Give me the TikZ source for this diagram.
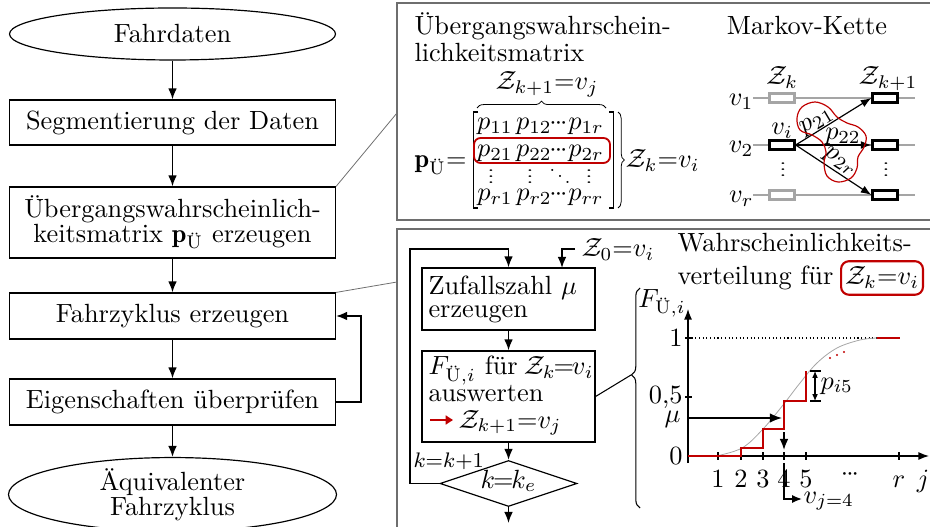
\documentclass[tikz,border=0pt]{standalone}
\usepackage{fontspec}
\usepackage{amsmath}
\usetikzlibrary{arrows.meta,shapes.geometric,decorations.pathreplacing}
\definecolor{dred}{RGB}{192,0,0}
\definecolor{pgray}{RGB}{110,110,110}
\definecolor{lgray}{RGB}{165,165,165}
\newcommand\pxu{0.38pt}
\newcommand\hdts{{\cdot}\mkern-1.3mu{\cdot}\mkern-1.3mu{\cdot}}
\newcommand\vdts{\scalebox{1}[0.6]{$\vdots$}}
\newcommand\eqq{\mkern-1.5mu{=}\mkern-1.5mu}
\begin{document}
\begin{tikzpicture}[x=0.38pt,y=-0.38pt,
  txt/.style={inner sep=0pt},
  box/.style={draw, line width=0.45pt, minimum width=326*\pxu, align=center, inner sep=0pt, font=\fontsize{10}{9.5}\selectfont},
  ell/.style={draw, ellipse, line width=0.45pt, inner sep=0pt, align=center, font=\fontsize{10}{9.5}\selectfont},
  sbox/.style={draw, line width=0.45pt, minimum width=173*\pxu, inner sep=0pt},
  arr/.style={line width=0.6pt, -{Latex[length=4.2pt,width=3.3pt]}},
  arrthin/.style={line width=0.45pt, -{Latex[length=4pt,width=3pt]}},
  mbox/.style={draw, fill=white, line width=0.9pt, minimum width=25*\pxu, minimum height=9*\pxu, inner sep=0pt},
  gbox/.style={mbox, draw=lgray, line width=0.8pt},
  panel/.style={draw=pgray, line width=0.5pt},
  conn/.style={draw=pgray, line width=0.3pt},
  redl/.style={dred, line width=0.85pt}
]
\useasboundingbox (0,0) rectangle (930,527);

% ---------- left flowchart ----------
\node[ell, minimum width=326*\pxu, minimum height=52*\pxu] (fd) at (172.5,34) {Fahrdaten};
\node[box, minimum height=45*\pxu] (seg) at (172.5,122.5) {Segmentierung der Daten};
\node[box, minimum height=71*\pxu] (ueb) at (172.5,222.5) {Übergangswahrscheinlich-\\keitsmatrix $\mathbf{p}_{\text{Ü}}$ erzeugen};
\node[box, minimum height=46*\pxu] (fz) at (172.5,316) {Fahrzyklus erzeugen};
\node[box, minimum height=46*\pxu] (eig) at (172.5,402) {Eigenschaften überprüfen};
\node[ell, minimum width=328*\pxu, minimum height=61*\pxu] (aeq) at (172.5,494.5) {Äquivalenter\\Fahrzyklus};

\draw[arr] (fd.south) -- (seg.north);
\draw[arr] (seg.south) -- (ueb.north);
\draw[arr] (ueb.south) -- (fz.north);
\draw[arr] (fz.south) -- (eig.north);
\draw[arr] (eig.south) -- (aeq.north);
\draw[arr] (eig.east) -- ++(25,0) |- (fz.east);

% ---------- panels ----------
\draw[panel] (945,3) -- (397,3) -- (397,220) -- (945,220);
\draw[panel] (945,229) -- (397,229) -- (397,545);
\coordinate (tpl) at (397,113);
\coordinate (bpl) at (397,282);
\draw[conn] (ueb.north east) -- (tpl);
\draw[conn] (fz.north east) -- (bpl);

% ---------- matrix ----------
\node[txt, anchor=base west] (t1) at (414,35) {Übergangswahrschein-};
\node[txt, anchor=base west] (t2) at (414,62) {lichkeitsmatrix};
\node[txt, anchor=base east] (pu) at (467,168) {$\mathbf{p}_{\text{Ü}}{=}$};
\foreach \r/\y in {1/130, 2/157, r/201} {
  \node[txt, anchor=base] (p\r a) at (495,\y) {$p_{\r1}$};
  \node[txt, anchor=base] (p\r b) at (534,\y) {$p_{\r2}$};
  \node[txt, anchor=base] (p\r c) at (558.5,\y) {$\hdts$};
  \node[txt, anchor=base] (p\r d) at (586,\y) {$p_{\r r}$};
}
\node[txt, anchor=base] (vd1) at (491,184) {\vdts};
\node[txt, anchor=base] (vd2) at (530,184) {\vdts};
\node[txt, anchor=base] (dd3) at (560,185) {\scalebox{0.75}{$\ddots$}};
\node[txt, anchor=base] (vd4) at (589,184) {\vdts};
\draw[line width=0.4pt] (478,112) -- (473.5,112) -- (473.5,208) -- (478,208);
\draw[line width=0.4pt] (609,112) -- (613.5,112) -- (613.5,208) -- (609,208);
\node[draw=dred, rounded corners=2.5pt, line width=0.7pt, minimum width=136*\pxu, minimum height=25*\pxu] (rrow) at (542,150.5) {};
\draw[line width=0.3pt, decorate, decoration={brace, amplitude=2.6pt}] (477,108) -- (606,108);
\node[txt, anchor=base] (zk1v) at (547,90) {$\mathcal{Z}_{k+1}{=}v_j$};
\draw[line width=0.3pt, decorate, decoration={brace, amplitude=2.4pt}] (618,112) -- (618,208);
\node[txt, anchor=base west] (zkv) at (625,168) {$\mathcal{Z}_k{=}v_i$};

% ---------- Markov chain ----------
\node[txt, anchor=base] (mk) at (807,35) {Markov-Kette};
\node[txt, anchor=base] (zk) at (782,85) {$\mathcal{Z}_k$};
\node[txt, anchor=base] (zkk) at (888,85) {$\mathcal{Z}_{k+1}$};
\foreach \n/\y in {1/98, 2/145, r/195} {
  \draw[lgray, line width=0.5pt] (753,\y) -- (915,\y);
  \node[txt, anchor=east] (v\n) at (754,\y+4) {$v_\n$};
  \node[mbox] (R\n) at (885,\y) {};
}
\node[gbox] (L1) at (782,98) {};
\node[mbox] (L2) at (782,145) {};
\node[gbox] (Lr) at (782,195) {};
\node[txt, anchor=base] (vi) at (782,135) {$v_i$};
\node[txt, anchor=base] (md1) at (783,177) {\vdts};
\node[txt, anchor=base] (md2) at (886,177) {\vdts};
\draw[arrthin] (L2.east) -- (R1.west);
\draw[arrthin] (L2.east) -- (R2.west);
\draw[arrthin] (L2.east) -- (Rr.west);
\node[txt, rotate=31] (p21l) at (817,122) {$p_{21}$};
\node[txt] (p22l) at (843,136) {$p_{22}$};
\node[txt, rotate=-33] (p2rl) at (840,162) {$p_{2r}$};
\draw[dred, line width=0.45pt] plot[smooth cycle, tension=0.6] coordinates {
  (797,118) (802,107) (815,102) (828,107) (837,117) (847,123) (858,127)
  (866,136) (864,147) (858,157) (857,168) (851,178) (838,182) (827,176)
  (824,163) (826,152) (822,142) (812,135) (800,130)};

% ---------- bottom flowchart ----------
\node[sbox, minimum height=62*\pxu] (zuf) at (508.5,299) {};
\node[txt, anchor=base west] (zuf1) at (428,295) {Zufallszahl $\mu$};
\node[txt, anchor=base west] (zuf2) at (428,318) {erzeugen};
\node[sbox, minimum height=91*\pxu] (fb) at (508.5,396.5) {};
\node[txt, anchor=base west] (fb1) at (428,375) {$F_{\text{Ü},i}$ für\hspace{-1pt} $\mathcal{Z}_k\eqq v_i$};
\node[txt, anchor=base west] (fb2) at (428,401) {auswerten};
\coordinate (ra1) at (430,420);
\coordinate (ra2) at (453,420);
\draw[dred, line width=1pt, -{Triangle[length=2.8pt,width=3.4pt]}] (ra1) -- (ra2);
\node[txt, anchor=base west] (fb3) at (458,428) {$\mathcal{Z}_{k+1}{=}v_j$};
\node[draw, diamond, aspect=3, line width=0.45pt, inner sep=0pt, minimum width=137*\pxu, minimum height=46*\pxu] (dia) at (508.5,483.5) {};
\node[txt, anchor=base] (diat) at (508.5,488) {$k\eqq k_e$};
\coordinate (out) at (508.5,523);
\coordinate (lp1) at (410,483.5);
\coordinate (lp3) at (508.5,249);
\coordinate (z0s) at (575,249);
\coordinate (z0e) at (562,268);
\draw[arr] (zuf.south) -- (fb.north);
\draw[arr] (fb.south) -- (dia.north);
\draw[arr] (dia.south) -- (out);
\draw[arr] (dia.west) -- (lp1) |- (lp3) -- (zuf.north);
\draw[arr] (z0s) -| (z0e);
\node[txt, anchor=base west] (z0) at (581,257) {$\mathcal{Z}_0{=}v_i$};
\node[txt, anchor=base west, font=\footnotesize] (kk) at (413,467) {$k{=}k{+}1$};
\coordinate (btip) at (631,375);
\draw[line width=0.4pt] (fb.east) -- (btip);
\draw[line width=0.4pt, decorate, decoration={brace, amplitude=3.2pt, aspect=0.605}] (640,508) -- (640,288);

% ---------- plot ----------
\node[txt, anchor=base west] (w1) at (677,252) {Wahrscheinlichkeits-};
\node[txt, anchor=base west] (w2) at (677,285) {verteilung für};
\node[draw=dred, rounded corners=3pt, line width=0.8pt, inner xsep=1.5pt, inner ysep=2.2pt, anchor=base west] (zb) at (840,285) {$\mathcal{Z}_k{=}v_i$};

\coordinate (O) at (688,456);
\coordinate (ytop) at (688,309);
\coordinate (xend) at (929,456);
\draw[line width=0.4pt, densely dotted] (688,338) -- (877,338);
\draw[lgray, line width=0.3pt] plot[smooth, tension=0.6] coordinates {(716,456) (742,448) (763,429) (783,405) (800,383) (817,363) (837,348) (860,340) (877,338)};
\draw[line width=0.45pt, -{Latex[length=4pt,width=3pt]}] (688,463) -- (ytop);
\draw[line width=0.45pt, -{Latex[length=4pt,width=3pt]}] (O) -- (xend);
\foreach \x in {718,741,763,784,806,899} \draw[line width=0.4pt] (\x,452) -- (\x,460);
\draw[line width=0.4pt] (685,338) -- (692,338);
\draw[line width=0.4pt] (685,397) -- (692,397);
\node[txt, anchor=east] (l1) at (683,338) {1};
\node[txt, anchor=east] (l05) at (683,397) {0,5};
\node[txt, anchor=east] (lmu) at (681,419) {$\mu$};
\node[txt, anchor=east] (l0) at (683,456) {0};
\foreach \n/\x in {1/718,2/741,3/763,4/784,5/806}
  \node[txt, anchor=base] (x\n) at (\x,487) {\n};
\node[txt, anchor=base] (xd) at (850,480) {$\hdts$};
\node[txt, anchor=base] (xr) at (899,487) {$r$};
\node[txt, anchor=base] (xj) at (923,487) {$j$};
\node[txt] (fl) at (662,303) {$F_{\text{Ü},i}$};

\draw[redl] (688,456) -- (741,456) -- (741,448) -- (763,448) -- (763,429) -- (784,429) -- (784,401) -- (806,401) -- (806,371);
\draw[redl] (877,338) -- (900,338);
\fill[dred] (830,358) circle (0.45pt);
\fill[dred] (837,355) circle (0.45pt);
\fill[dred] (844,352) circle (0.45pt);

\coordinate (mus) at (688,418);
\coordinate (mue) at (782,418);
\draw[line width=0.6pt, -{Latex[length=4.6pt,width=3.6pt]}] (mus) -- (mue);
\coordinate (dws) at (784,432);
\coordinate (dwe) at (784,450);
\draw[line width=0.6pt, -{Latex[length=4.2pt,width=3.3pt]}] (dws) -- (dwe);
\coordinate (vjs) at (784,463);
\coordinate (vje) at (802,499);
\draw[line width=0.6pt, -{Latex[length=3.8pt,width=3.1pt]}] (vjs) |- (vje);
\node[txt, anchor=base west] (vj) at (803,503) {$v_{j=4}$};

\draw[line width=0.4pt] (810,371) -- (821,371);
\draw[line width=0.4pt] (810,401) -- (821,401);
\draw[line width=0.4pt, {Latex[length=2.6pt,width=2.2pt]}-{Latex[length=2.6pt,width=2.2pt]}] (815,371) -- (815,401);
\node[txt, anchor=base west] (pi5) at (820,389) {$p_{i5}$};
\end{tikzpicture}
\end{document}
